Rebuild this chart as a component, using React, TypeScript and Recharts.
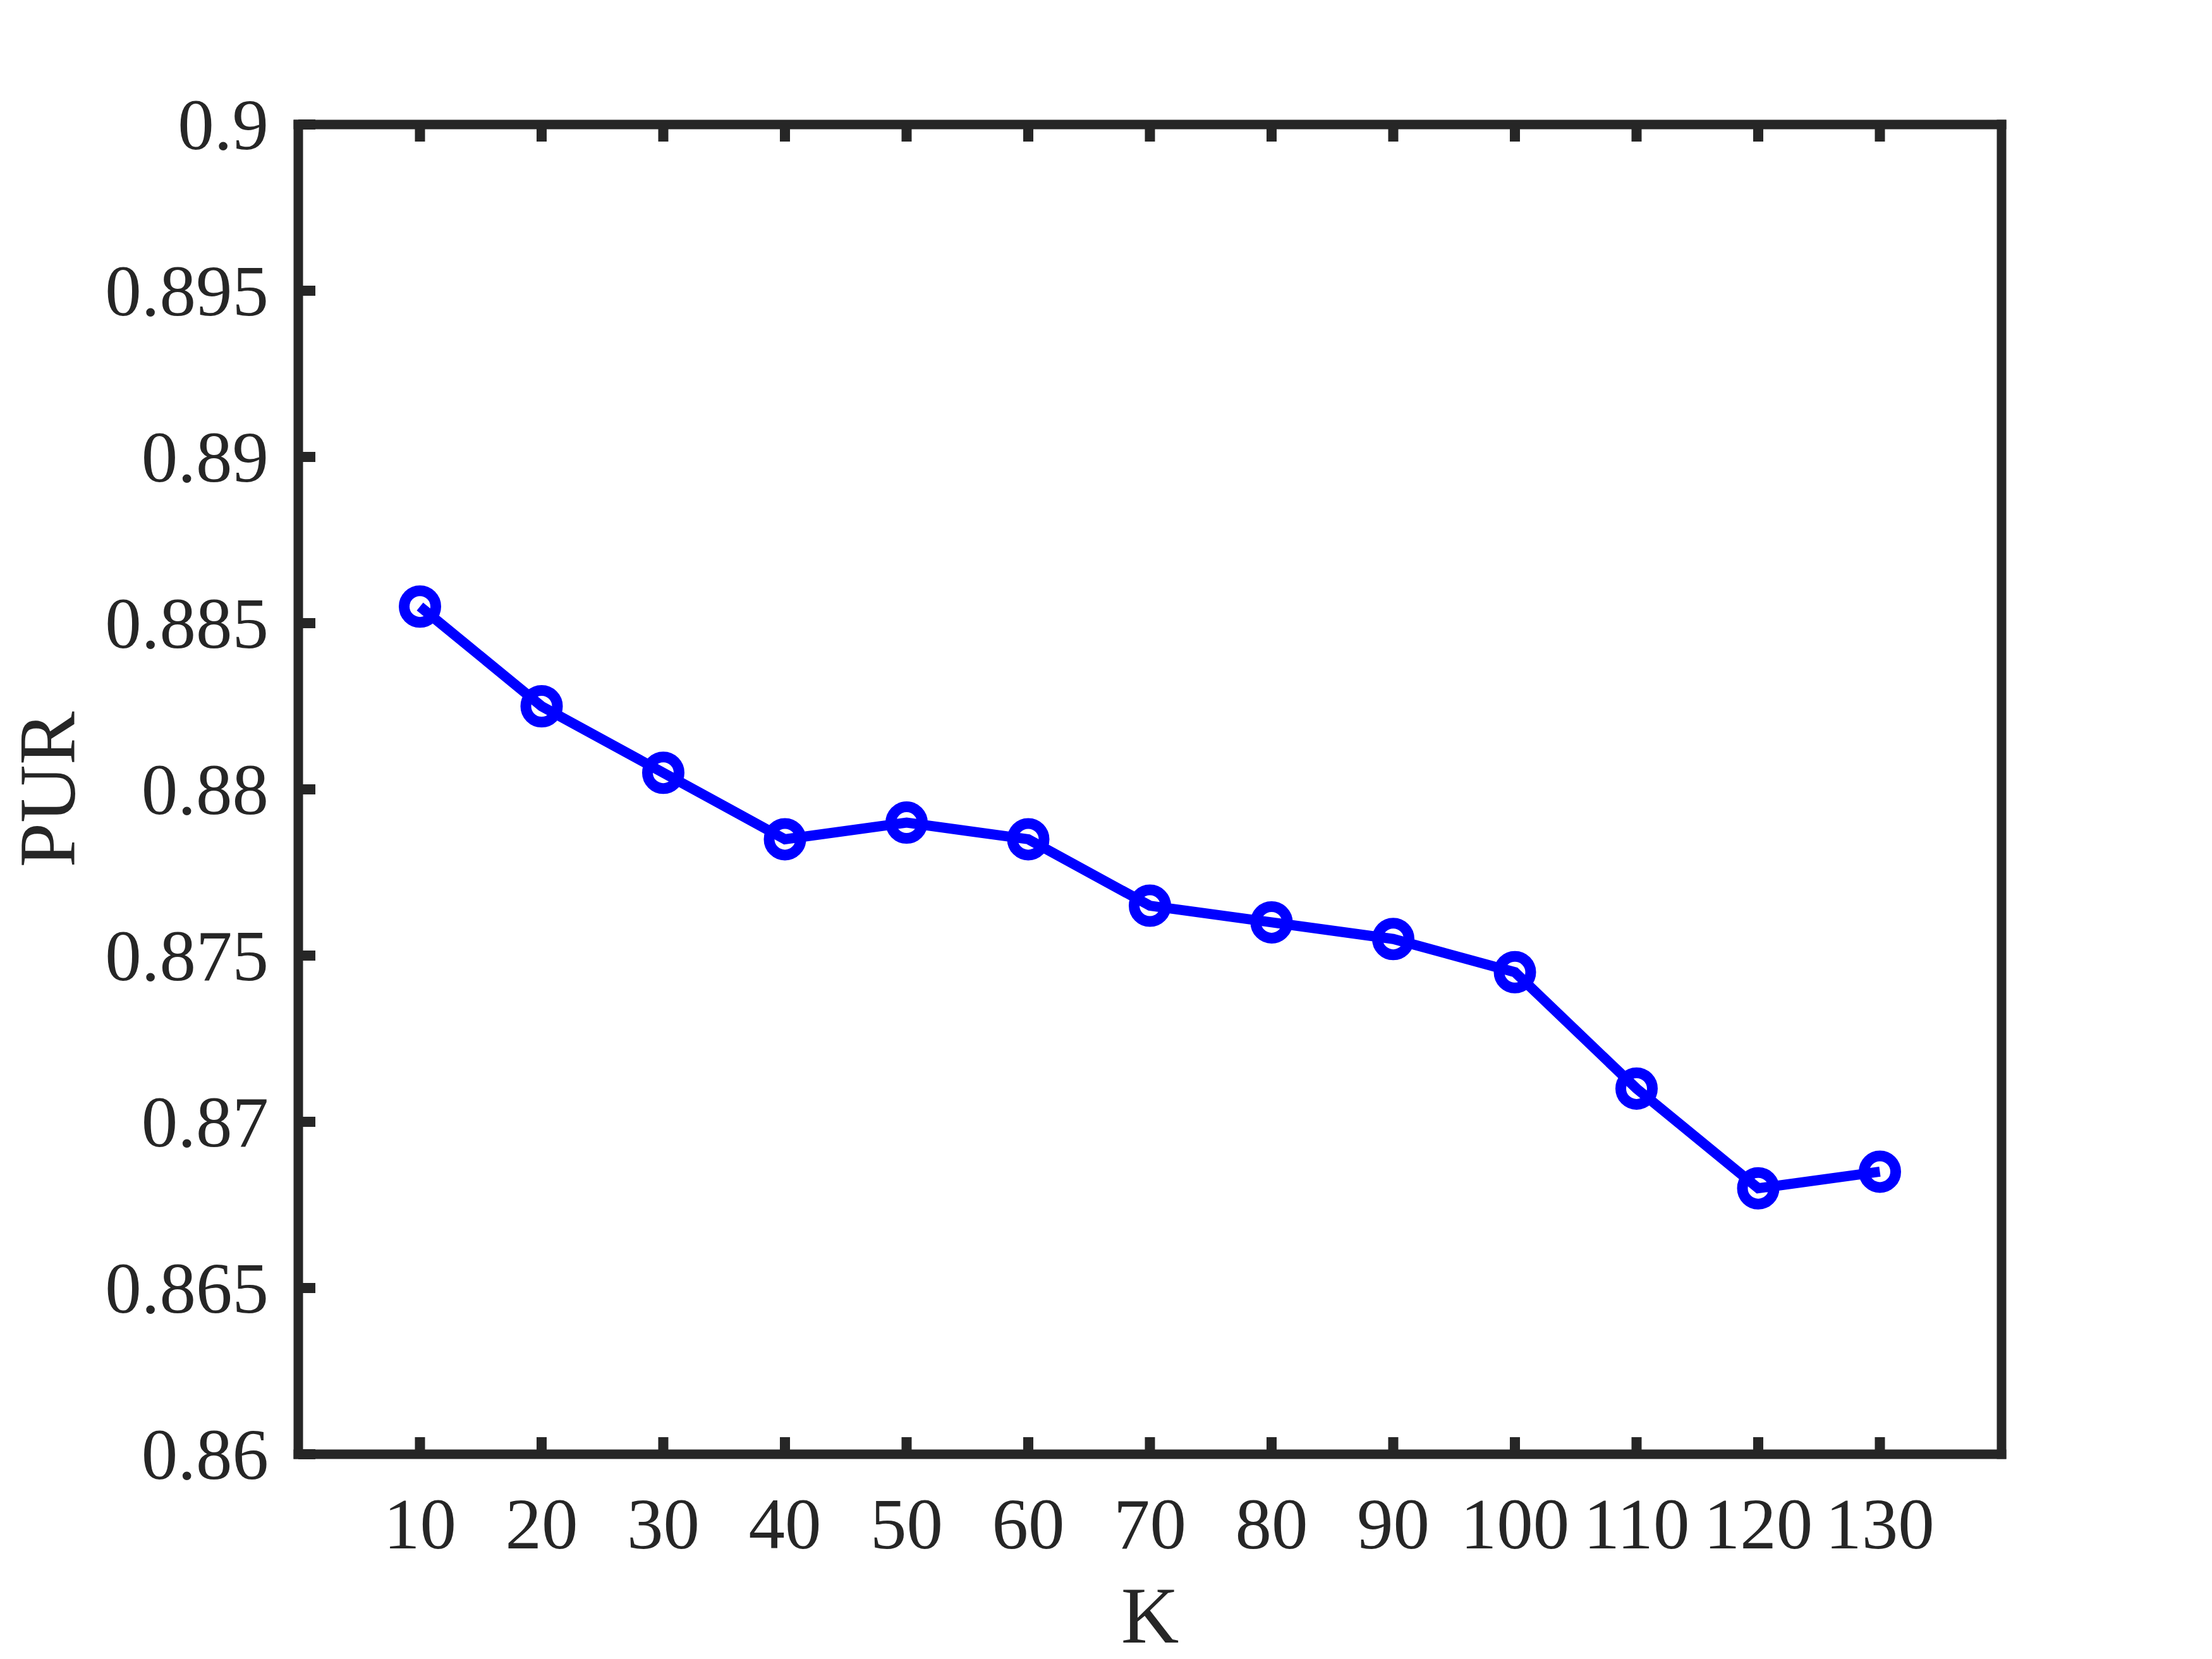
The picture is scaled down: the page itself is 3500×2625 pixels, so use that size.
import { Line, LineChart, XAxis, YAxis } from "recharts";

// K values and the PUR
const kValues = [10, 20, 30, 40, 50, 60, 70, 80, 90, 100, 110, 120, 130];
const purValues = [
  0.8855, 0.8825, 0.8805, 0.8785, 0.879, 0.8785, 0.8765, 0.876, 0.8755,
  0.8745, 0.871, 0.868, 0.8685,
];

const xTicks = [10, 20, 30, 40, 50, 60, 70, 80, 90, 100, 110, 120, 130];
const yTicks = [0.86, 0.865, 0.87, 0.875, 0.88, 0.885, 0.89, 0.895, 0.9];
const xDomain = [0, 140];
const yDomain = [0.86, 0.9];

const data = kValues.map((k, i) => ({ k, pur: purValues[i] }));

const INK = "#262626";
const FONT = "'Liberation Serif', 'Times New Roman', serif";
const TICK_LEN = 27;
const TICK_W = 16;

const axisLine = { stroke: INK, strokeWidth: 15, strokeLinecap: "square" as const };

// matlab style: tick marks point into the box
const LeftTick = ({ x, y, payload }: any) => (
  <g>
    <line x1={x + 47} x2={x + 47 + TICK_LEN} y1={y} y2={y} stroke={INK} strokeWidth={TICK_W} />
    <text
      x={x}
      y={y}
      textAnchor="end"
      dominantBaseline="central"
      fill={INK}
      fontSize={115}
      fontFamily={FONT}
    >
      {payload.value}
    </text>
  </g>
);

const BottomTick = ({ x, y, payload }: any) => (
  <g>
    <line x1={x} x2={x} y1={y} y2={y - TICK_LEN} stroke={INK} strokeWidth={TICK_W} />
    <text
      x={x}
      y={y + 110}
      textAnchor="middle"
      dominantBaseline="central"
      fill={INK}
      fontSize={115}
      fontFamily={FONT}
    >
      {payload.value}
    </text>
  </g>
);

const RightTick = ({ x, y }: any) => (
  <line x1={x} x2={x - TICK_LEN} y1={y} y2={y} stroke={INK} strokeWidth={TICK_W} />
);

const TopTick = ({ x, y }: any) => (
  <line x1={x} x2={x} y1={y} y2={y + TICK_LEN} stroke={INK} strokeWidth={TICK_W} />
);

const YLabel = ({ viewBox }: any) => {
  const x = viewBox.x + 75;
  const y = viewBox.y + viewBox.height / 2;
  return (
    <text
      x={x}
      y={y}
      transform={`rotate(-90, ${x}, ${y})`}
      textAnchor="middle"
      dominantBaseline="central"
      fill={INK}
      fontSize={127}
      fontFamily={FONT}
    >
      PUR
    </text>
  );
};

const XLabel = ({ viewBox }: any) => {
  const x = viewBox.x + viewBox.width / 2;
  const y = viewBox.y + 255;
  return (
    <text
      x={x}
      y={y}
      textAnchor="middle"
      dominantBaseline="central"
      fill={INK}
      fontSize={127}
      fontFamily={FONT}
    >
      K
    </text>
  );
};

export default function App() {
  return (
    <div
      style={{
        position: "absolute",
        left: 0,
        top: 0,
        width: 3500,
        height: 2625,
        background: "#fff",
      }}
    >
      <LineChart
        width={3500}
        height={2625}
        data={data}
        margin={{ top: 196, right: 332, bottom: 0, left: 0 }}
      >
        <XAxis
          dataKey="k"
          type="number"
          domain={xDomain}
          ticks={xTicks}
          interval={0}
          height={324}
          axisLine={axisLine}
          tickLine={false}
          tickSize={0}
          tickMargin={0}
          tick={<BottomTick />}
          label={<XLabel />}
        />
        <XAxis
          xAxisId="top"
          orientation="top"
          dataKey="k"
          type="number"
          domain={xDomain}
          ticks={xTicks}
          interval={0}
          height={1}
          axisLine={axisLine}
          tickLine={false}
          tickSize={0}
          tickMargin={0}
          tick={<TopTick />}
        />
        <YAxis
          type="number"
          domain={yDomain}
          ticks={yTicks}
          interval={0}
          width={472}
          axisLine={axisLine}
          tickLine={false}
          tickSize={0}
          tickMargin={47}
          tick={<LeftTick />}
          label={<YLabel />}
        />
        <YAxis
          yAxisId="right"
          orientation="right"
          type="number"
          domain={yDomain}
          ticks={yTicks}
          interval={0}
          width={1}
          axisLine={axisLine}
          tickLine={false}
          tickSize={0}
          tickMargin={0}
          tick={<RightTick />}
        />
        <Line
          type="linear"
          dataKey="pur"
          stroke="#0000FF"
          strokeWidth={16}
          dot={{ r: 25, stroke: "#0000FF", strokeWidth: 17, fill: "none" }}
          isAnimationActive={false}
        />
      </LineChart>
    </div>
  );
}
